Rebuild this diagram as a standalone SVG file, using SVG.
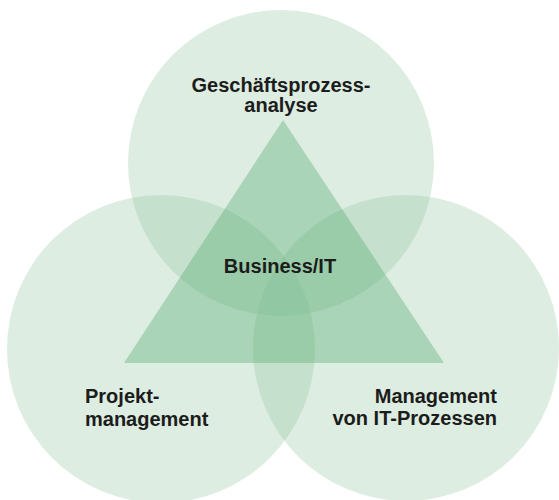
<svg xmlns="http://www.w3.org/2000/svg" width="559" height="500" viewBox="0 0 559 500">
  <style>
    .circle { fill: #90c69f; fill-opacity: 0.31; }
    .tri { fill: #5daf78; fill-opacity: 0.4; }
    .label { font-family: "Liberation Sans", Arial, sans-serif; font-weight: bold; font-size: 20px; fill: #1c1c1c; }
  </style>
  <rect width="559" height="500" fill="#ffffff"/>
  <g id="node-geschaeftsprozessanalyse">
    <circle class="circle" cx="281" cy="163" r="153"/>
    <text class="label" x="281" y="92" text-anchor="middle">Geschäftsprozess-</text>
    <text class="label" x="281" y="112" text-anchor="middle">analyse</text>
  </g>
  <g id="node-projektmanagement">
    <circle class="circle" cx="161" cy="349" r="154"/>
    <text class="label" x="85" y="403">Projekt-</text>
    <text class="label" x="85" y="426">management</text>
  </g>
  <g id="node-it-prozesse">
    <circle class="circle" cx="406" cy="348" r="153"/>
    <text class="label" x="497" y="403" text-anchor="end">Management</text>
    <text class="label" x="497" y="425" text-anchor="end">von IT-Prozessen</text>
  </g>
  <g id="node-business-it">
    <polygon class="tri" points="283,120 444,363 124,363"/>
    <text class="label" x="280" y="273" text-anchor="middle">Business/IT</text>
  </g>
</svg>
